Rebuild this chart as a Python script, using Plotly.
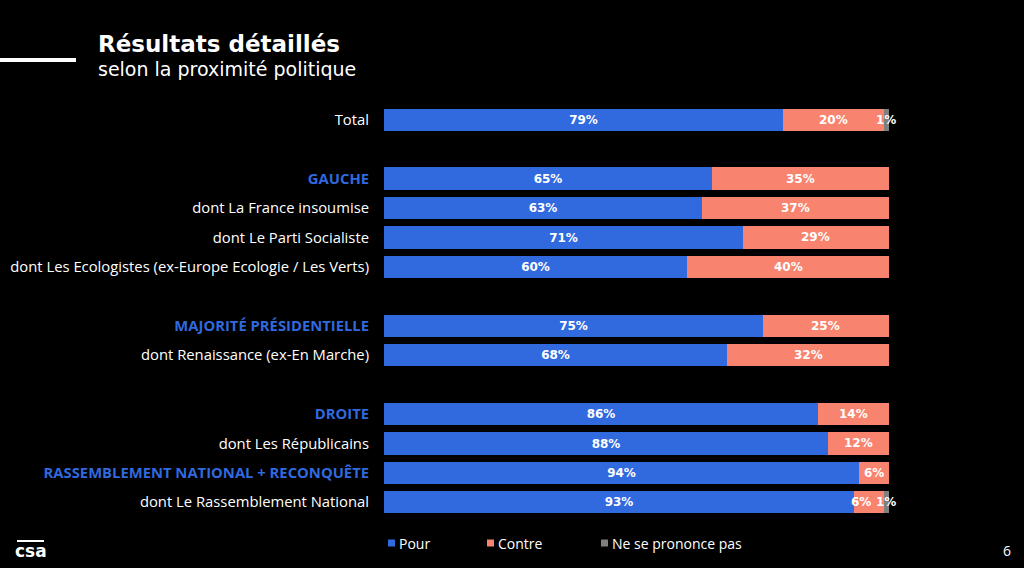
import plotly.graph_objects as go

categories = ["Total", "GAUCHE", "dont La France insoumise", "dont Le Parti Socialiste",
              "dont Les Ecologistes (ex-Europe Ecologie / Les Verts)", "MAJORITÉ PRÉSIDENTIELLE",
              "dont Renaissance (ex-En Marche)", "DROITE", "dont Les Républicains",
              "RASSEMBLEMENT NATIONAL + RECONQUÊTE", "dont Le Rassemblement National"]
is_group = [False, True, False, False, False, True, False, True, False, True, False]
slots = [0, 2, 3, 4, 5, 7, 8, 10, 11, 12, 13]
pour = [79, 65, 63, 71, 60, 75, 68, 86, 88, 94, 93]
contre = [20, 35, 37, 29, 40, 25, 32, 14, 12, 6, 6]
nsp = [1, 0, 0, 0, 0, 0, 0, 0, 0, 0, 1]
series_names = ["Pour", "Contre", "Ne se prononce pas"]

BLUE = "#3169df"
RED = "#f8836f"
GRAY = "#7f7f7f"
FONT = "Open Sans"
NUMFONT = "DejaVu Sans"

W, H = 1024, 568
L, R, T, B = 384, 135, 105, 51
pw, ph = W - L - R, H - T - B


def px(x):
    return (x - L) / pw


def py(y):
    return (H - B - y) / ph


fig = go.Figure()
for name, vals, col in zip(series_names, [pour, contre, nsp], [BLUE, RED, GRAY]):
    show_text = name == "Pour"
    fig.add_trace(go.Bar(
        name=name, y=slots, x=vals, orientation="h", marker=dict(color=col, line=dict(width=0)),
        width=0.76,
        text=[f"<b>{v}%</b>" if (show_text and v > 0) else "" for v in vals],
        textposition="inside", insidetextanchor="middle", textangle=0,
        constraintext="none",
        textfont=dict(color="white", size=12, family=NUMFONT),
        hoverinfo="skip",
    ))

# Labels for "Contre" and "Ne se prononce pas" segments
for s, p, c, n in zip(slots, pour, contre, nsp):
    if c > 0:
        shift = -8 if (n > 0 and c < 10) else 0
        fig.add_annotation(x=p + c / 2, y=s, xref="x", yref="y", text=f"<b>{c}%</b>",
                           showarrow=False, font=dict(color="white", size=12, family=NUMFONT),
                           xanchor="center", yanchor="middle", xshift=shift)
    if n > 0:
        fig.add_annotation(x=p + c + n / 2, y=s, xref="x", yref="y", text=f"<b>{n}%</b>",
                           showarrow=False, font=dict(color="white", size=12, family=NUMFONT),
                           xanchor="center", yanchor="middle")

ticktext = []
for cat, g in zip(categories, is_group):
    if g:
        ticktext.append(f"<b><span style='color:{BLUE}'>{cat}</span></b>")
    else:
        ticktext.append(cat)

fig.update_layout(
    barmode="stack",
    paper_bgcolor="black", plot_bgcolor="black",
    width=W, height=H,
    margin=dict(l=L, r=R, t=T, b=B, pad=0, autoexpand=False),
    bargap=0,
    xaxis=dict(range=[0, 100], visible=False, fixedrange=True, automargin=False),
    yaxis=dict(range=[13.5, -0.5], tickmode="array", tickvals=slots, ticktext=ticktext,
               tickfont=dict(color="white", size=14.8, family=FONT), showgrid=False,
               zeroline=False, showline=False, ticks="", ticklabelstandoff=14, fixedrange=True,
               automargin=False),
    showlegend=False,
)

# Legend (custom, matching the small squares of the reference)
legend_x = [388, 487, 601]
for name, col, lx in zip(series_names, [BLUE, RED, GRAY], legend_x):
    fig.add_shape(type="rect", xref="paper", yref="paper", x0=px(lx), x1=px(lx + 7),
                  y0=py(546.5), y1=py(539.5), fillcolor=col, line=dict(width=0))
    fig.add_annotation(x=px(lx + 9), y=py(543), xref="paper", yref="paper", text=name,
                       showarrow=False, font=dict(color="white", size=14, family=FONT),
                       xanchor="left", yanchor="middle")

fig.add_annotation(x=px(96), y=py(44), xref="paper", yref="paper", text="<b>Résultats détaillés</b>",
                   showarrow=False, font=dict(color="white", size=23, family="DejaVu Sans"),
                   xanchor="left", yanchor="middle")
fig.add_annotation(x=px(96), y=py(69), xref="paper", yref="paper", text="selon la proximité politique",
                   showarrow=False, font=dict(color="white", size=19, family="DejaVu Sans"),
                   xanchor="left", yanchor="middle")
fig.add_shape(type="line", xref="paper", yref="paper", x0=px(0), x1=px(76), y0=py(60), y1=py(60),
              line=dict(color="white", width=4))
fig.add_annotation(x=px(31), y=py(551), xref="paper", yref="paper", text="<b>csa</b>",
                   showarrow=False, font=dict(color="white", size=17, family="DejaVu Sans"),
                   xanchor="center", yanchor="middle")
fig.add_shape(type="line", xref="paper", yref="paper", x0=px(17), x1=px(44), y0=py(541), y1=py(541),
              line=dict(color="white", width=2))
fig.add_annotation(x=px(1007), y=py(550), xref="paper", yref="paper", text="6",
                   showarrow=False, font=dict(color="white", size=14, family=FONT),
                   xanchor="center", yanchor="middle")

fig.write_html("out.html", config={"displayModeBar": False},
               post_script="document.body.style.margin='0';document.body.style.overflow='hidden';")
